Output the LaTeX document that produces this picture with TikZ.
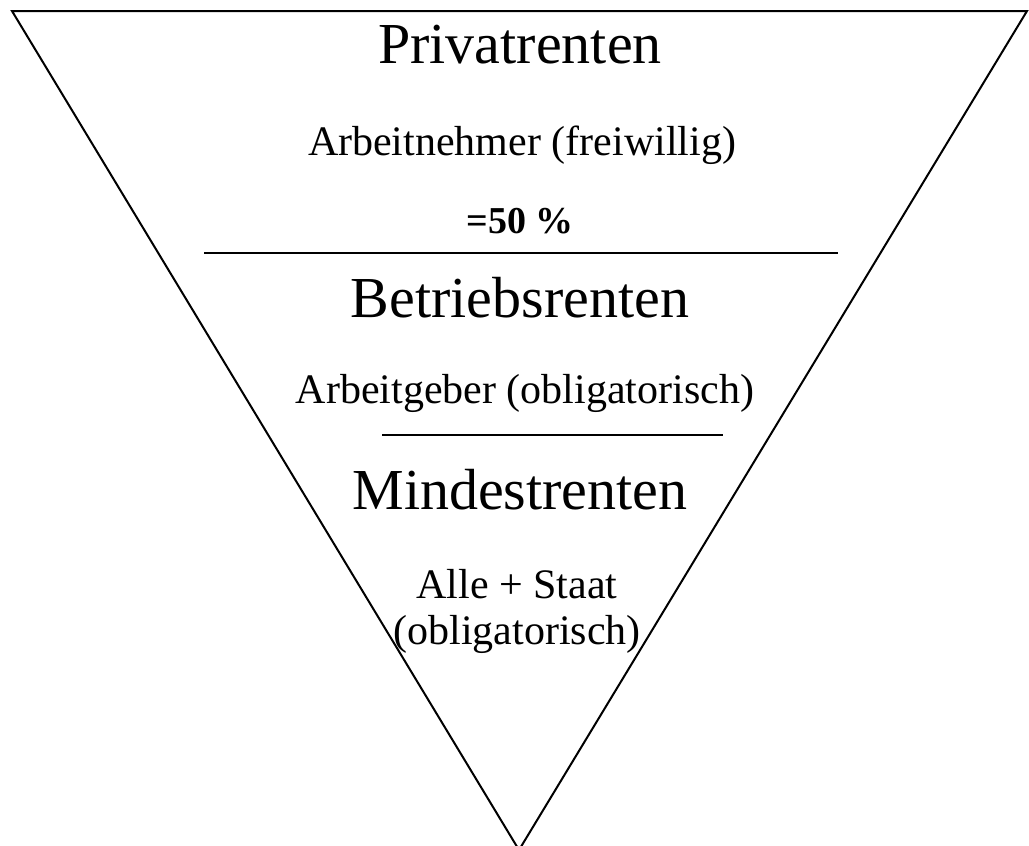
\documentclass[tikz,border=0pt]{standalone}
\usepackage{fontspec}
\setmainfont{Liberation Serif}
\begin{document}
\begin{tikzpicture}[x=1pt,y=-1pt,
  edge/.style={line width=2pt,line join=miter},
  title/.style={font=\fontsize{58}{62}\selectfont,inner sep=0pt},
  sub/.style={font=\fontsize{42}{46}\selectfont,inner sep=0pt,align=center},
  pct/.style={font=\fontsize{38}{40}\selectfont\bfseries,inner sep=0pt}]
\useasboundingbox (0,0) rectangle (1029,846);
\coordinate (tl) at (12,11);
\coordinate (tr) at (1027,11);
\coordinate (bot) at (519,850);
\draw[edge] (tl) -- (tr) -- (bot) -- cycle;
\coordinate (l1a) at (204,253);
\coordinate (l1b) at (838,253);
\coordinate (l2a) at (382,435);
\coordinate (l2b) at (723,435);
\draw[line width=2pt] (l1a) -- (l1b);
\draw[line width=2pt] (l2a) -- (l2b);
\node[title] (priv) at (520,45) {Privatrenten};
\node[sub] (an) at (522,145) {Arbeitnehmer (freiwillig)};
\node[pct] (p50) at (520,221) {=50 \%};
\node[title] (betr) at (520,298) {Betriebsrenten};
\node[sub] (ag) at (525,393) {Arbeitgeber (obligatorisch)};
\node[title] (mind) at (520,490) {Mindestrenten};
\node[sub] (alle) at (517,611) {Alle + Staat\\(obligatorisch)};
\end{tikzpicture}
\end{document}
